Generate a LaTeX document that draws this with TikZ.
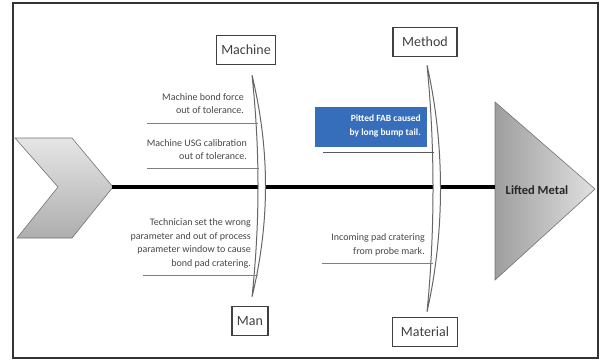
\documentclass[tikz,border=0pt]{standalone}
\usepackage{fontspec}
\setmainfont{Carlito}
\usetikzlibrary{calc}
\definecolor{boxblue}{RGB}{55,110,188}
\tikzset{
  cat/.style={draw=black!75, line width=1.3pt, inner xsep=5pt, minimum height=29pt, text=black!75, font=\fontsize{14}{14}\selectfont},
  cause/.style={align=right, inner sep=0pt, text=black!72, font=\fontsize{10}{13.5}\selectfont},
  twig/.style={draw=black!50, line width=0.9pt},
  bone/.style={draw=black!60, fill=white, line width=1pt}
}
\begin{document}
\begin{tikzpicture}[x=1pt,y=-1pt]
      \useasboundingbox (0,0) rectangle (601,360);
      \draw[line width=1.5pt, black!80] (13,3) rectangle (598,358);

      \shade[top color=black!10, bottom color=black!32, draw=black!55, line width=0.6pt]
        (15,138) -- (72,138) -- (113,187) -- (72,238) -- (17,238) -- (58,187) -- cycle;
      \shade[left color=black!38, right color=black!12, draw=black!55, line width=0.6pt]
        (495,102) -- (595,189) -- (495,280) -- cycle;
      \coordinate (tail) at (112,187);
      \coordinate (head) at (495,187);
      \draw[line width=4pt] (tail) -- (head);
      \node[font=\bfseries\fontsize{12.5}{14}\selectfont, text=black!85] (effect) at (537,190) {Lifted Metal};

      \node[cat] (machine) at (246,50) {Machine};
      \node[cat] (man) at (250,321) {Man};
      \node[cat, minimum width=64pt] (method) at (425,42) {Method};
      \node[cat, minimum width=65pt] (material) at (425,332) {Material};

      \coordinate (mtop) at ($(machine.south)+(6,10)$);
      \coordinate (mbot) at ($(man.north)+(2,-9)$);
      \coordinate (ttop) at ($(method.south)+(2,8)$);
      \coordinate (tbot) at ($(material.north)+(2,-5)$);
      \draw[bone] (mtop) .. controls ($(mtop)+(18,75)$) and ($(mbot)+(18,-75)$) .. (mbot)
                         .. controls ($(mbot)+(8,-75)$) and ($(mtop)+(8,75)$) .. (mtop);
      \draw[bone] (ttop) .. controls ($(ttop)+(18,80)$) and ($(tbot)+(18,-80)$) .. (tbot)
                         .. controls ($(tbot)+(8,-80)$) and ($(ttop)+(8,80)$) .. (ttop);

      \node[cause, anchor=south east] (c1) at (244,114) {Machine bond force\\out of tolerance.};
      \node[cause, anchor=south east] (c2) at (247,160) {Machine USG calibration\\out of tolerance.};
      \node[cause, anchor=south east] (c3) at (251,268) {Technician set the wrong\\parameter and out of process\\parameter window to cause\\bond pad cratering.};
      \node[cause, anchor=south east] (c5) at (425,256) {Incoming pad cratering\\from probe mark.};
      \node[fill=boxblue, minimum width=112pt, minimum height=40pt, inner sep=0pt] (blue) at (371,127) {};
      \node[cause, anchor=east, text=white, font=\bfseries\fontsize{9.5}{14}\selectfont] (c4) at (421,126) {Pitted FAB caused\\by long bump tail.};

      \coordinate (t1a) at (147,123); \coordinate (t1b) at (258,123);
      \coordinate (t2a) at (147,168); \coordinate (t2b) at (259,168);
      \coordinate (t3a) at (143,275); \coordinate (t3b) at (258,275);
      \coordinate (t4a) at (323,152); \coordinate (t4b) at (434,152);
      \coordinate (t5a) at (322,263); \coordinate (t5b) at (433,263);
      \draw[twig] (t1a) -- (t1b);
      \draw[twig] (t2a) -- (t2b);
      \draw[twig] (t3a) -- (t3b);
      \draw[twig, draw=black!65] (t4a) -- (t4b);
      \draw[twig] (t5a) -- (t5b);
\end{tikzpicture}
\end{document}
